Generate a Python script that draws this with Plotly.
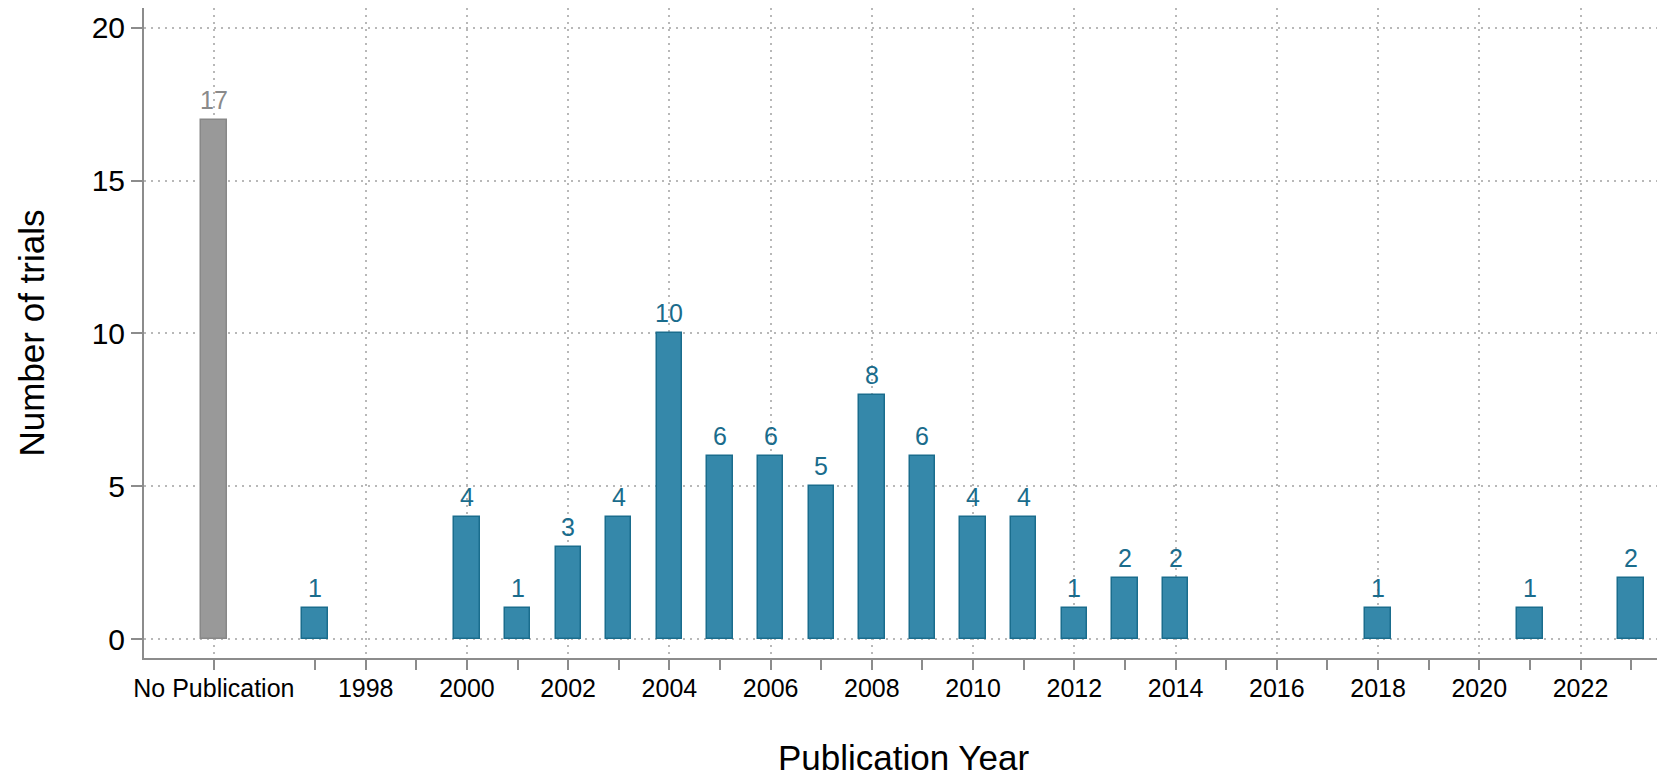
import plotly.graph_objects as go

# Data
no_pub_label = "No Publication"
no_pub_slot = 1995  # axis slot used for the "No Publication" category
no_pub_count = 17

years = [1997, 2000, 2001, 2002, 2003, 2004, 2005, 2006, 2007, 2008,
         2009, 2010, 2011, 2012, 2013, 2014, 2018, 2021, 2023]
counts = [1, 4, 1, 3, 4, 10, 6, 6, 5, 8,
          6, 4, 4, 1, 2, 2, 1, 1, 2]

major_ticks = [1995, 1998, 2000, 2002, 2004, 2006, 2008, 2010, 2012,
               2014, 2016, 2018, 2020, 2022]
major_labels = [no_pub_label] + [str(y) for y in major_ticks[1:]]
minor_ticks = [1997, 1999, 2001, 2003, 2005, 2007, 2009, 2011, 2013,
               2015, 2017, 2019, 2021, 2023]
y_ticks = [0, 5, 10, 15, 20]

FONT = "Liberation Sans, Arial, Helvetica, sans-serif"
BLUE_FILL = "#3588aa"
BLUE_LINE = "#1a6d8d"
BLUE_TEXT = "#1a6c8c"
GRAY_FILL = "#999999"
GRAY_LINE = "#888888"
GRAY_TEXT = "#8a8a8a"
AXIS = "#8c8c8c"
GRID = "#b8b8b8"
GRID_DASH = "1.5px,5.5px"

fig = go.Figure()
fig.add_trace(go.Bar(
    x=[no_pub_slot], y=[no_pub_count], width=0.5,
    marker=dict(color=GRAY_FILL, line=dict(color=GRAY_LINE, width=1.5)),
    showlegend=False,
))
fig.add_trace(go.Bar(
    x=years, y=counts, width=0.5,
    marker=dict(color=BLUE_FILL, line=dict(color=BLUE_LINE, width=1.5)),
    showlegend=False,
))

annotations = []
# value labels above bars
annotations.append(dict(
    x=no_pub_slot, y=no_pub_count, xref="x", yref="y", text=str(no_pub_count),
    showarrow=False, yanchor="bottom", yshift=4,
    font=dict(size=25, color=GRAY_TEXT, family=FONT)))
for yr, c in zip(years, counts):
    annotations.append(dict(
        x=yr, y=c, xref="x", yref="y", text=str(c),
        showarrow=False, yanchor="bottom", yshift=4,
        font=dict(size=25, color=BLUE_TEXT, family=FONT)))
# axis titles
annotations.append(dict(
    x=0.5, y=0, xref="paper", yref="paper", text="Publication Year",
    showarrow=False, xanchor="center", yanchor="middle", yshift=-99,
    font=dict(size=35, color="black", family=FONT)))
annotations.append(dict(
    x=0, y=0.5, xref="paper", yref="paper", text="Number of trials",
    showarrow=False, xanchor="center", yanchor="middle", xshift=-113.5,
    textangle=-90, font=dict(size=35, color="black", family=FONT)))

fig.update_layout(
    width=1657, height=769,
    margin=dict(l=136, r=3, t=0, b=119, pad=0, autoexpand=False),
    plot_bgcolor="white", paper_bgcolor="white",
    font=dict(family=FONT, color="black"),
    bargap=0,
    annotations=annotations,
    xaxis=dict(
        range=[1993.62, 2023.61],
        tickmode="array", tickvals=major_ticks, ticktext=major_labels,
        ticks="outside", ticklen=10, tickwidth=2, tickcolor=AXIS,
        tickfont=dict(size=25, family=FONT, color="black"),
        ticklabelstandoff=-3,
        showline=True, linecolor=AXIS, linewidth=2,
        showgrid=True, gridcolor=GRID, griddash=GRID_DASH, gridwidth=1.5,
        zeroline=False,
        minor=dict(tickvals=minor_ticks, ticks="outside", ticklen=10,
                   tickwidth=2, tickcolor=AXIS, showgrid=False),
        automargin=False,
    ),
    yaxis=dict(
        range=[-0.62, 20.65],
        tickmode="array", tickvals=y_ticks,
        ticks="outside", ticklen=11, tickwidth=2, tickcolor=AXIS,
        tickfont=dict(size=30, family=FONT, color="black"),
        showline=True, linecolor=AXIS, linewidth=2,
        showgrid=True, gridcolor=GRID, griddash=GRID_DASH, gridwidth=1.5,
        zeroline=False,
        automargin=False,
    ),
)

fig.write_html("out.html")
